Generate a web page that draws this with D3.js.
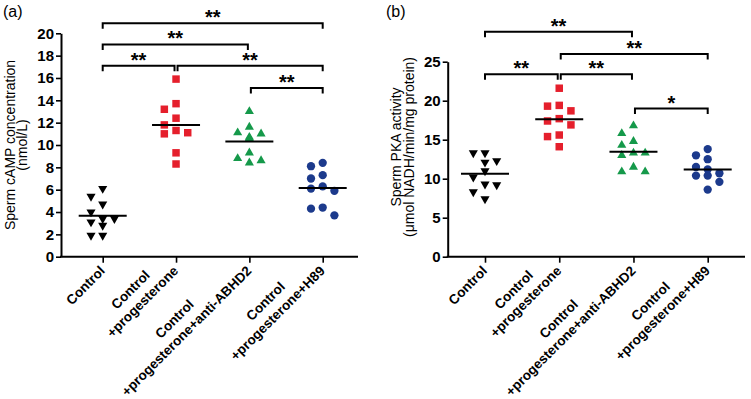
<!DOCTYPE html>
<html>
<head>
<meta charset="utf-8">
<script src="https://cdn.jsdelivr.net/npm/d3@7"></script>
<style>
body { margin: 0; background: #fff; }
svg { font-family: Arial, "Liberation Sans", sans-serif; }
</style>
</head>
<body>
<svg id="chart" width="751" height="399"></svg>
<script>
// group names, one entry per line of the tick label
var groupLabels = [
    ['Control'],
    ['Control', '+progesterone'],
    ['Control', '+progesterone+anti-ABHD2'],
    ['Control', '+progesterone+H89']
];

// (a) sperm cAMP, nmol/L
var campControl = [6.1, 5.4, 4.7, 4.0, 3.4, 3.4, 3.1, 2.8, 1.9, 1.9];
var campProg = [15.9, 13.7, 13.2, 12.4, 11.8, 11.3, 11.0, 11.1, 9.3, 8.3];
var campAbhd2 = [13.0, 11.6, 11.1, 11.0, 10.7, 10.6, 9.3, 8.8, 8.6, 8.4];
var campH89 = [8.4, 8.1, 7.3, 7.0, 6.3, 6.1, 5.9, 4.4, 4.3, 3.7];
var campTicks = [0, 2, 4, 6, 8, 10, 12, 14, 16, 18, 20];
// [from, to, label, bracket level in data units]
var campComparisons = [[0, 3, '**', 20.9], [0, 2, '**', 19.0], [0, 1, '**', 17.1], [1, 3, '**', 17.1], [2, 3, '**', 15.1]];

// (b) sperm PKA activity
var pkaControl = [13.3, 13.3, 12.3, 12.1, 11.0, 10.2, 9.3, 9.2, 8.3, 7.4];
var pkaProg = [21.6, 19.4, 19.3, 18.7, 17.7, 17.4, 16.9, 15.6, 15.4, 14.1];
var pkaAbhd2 = [16.8, 15.8, 14.8, 14.3, 13.3, 13.3, 13.0, 11.5, 10.9, 10.9];
var pkaH89 = [13.8, 13.0, 12.5, 11.5, 11.2, 10.7, 10.4, 10.4, 9.6, 8.6];
var pkaTicks = [0, 5, 10, 15, 20, 25];
var pkaComparisons = [[0, 2, '**', 28.85], [1, 3, '**', 26.0], [0, 1, '**', 23.4], [1, 2, '**', 23.4], [2, 3, '*', 19.0]];

var colors = ['#000000', '#e51f2c', '#15994a', '#1c3a8c'];
var symbols = [
    { type: d3.symbolTriangle, size: 36, rot: 180 },
    { type: d3.symbolSquare, size: 56, rot: 0 },
    { type: d3.symbolTriangle, size: 36, rot: 0 },
    { type: d3.symbolCircle, size: 54, rot: 0 }
];

var svg = d3.select('#chart');

// simple beeswarm: spread points sideways when they would overlap
function swarm(values, y) {
    var placed = [];
    var result = [];
    var offsets = [0, -11.7, 11.7, -5.85, 5.85, -17.5, 17.5];
    var order = d3.range(values.length).sort(function(a, b) { return values[b] - values[a]; });
    order.forEach(function(i) {
        var py = y(values[i]);
        var dx = offsets.find(function(o) {
            return placed.every(function(p) {
                return Math.abs(p.dx - o) >= 9 || Math.abs(p.y - py) >= 8.5;
            });
        });
        if (dx === undefined) dx = 0;
        placed.push({ dx: dx, y: py });
        result[i] = dx;
    });
    return result;
}

function drawPanel(cfg) {
    var g = svg.append('g');
    var x = d3.scalePoint().domain(d3.range(4)).range([cfg.x0, cfg.x1]);
    var y = d3.scaleLinear().domain([0, cfg.yMax]).range([cfg.yBottom, cfg.yTop]);

    // y axis
    var ya = g.append('g')
        .attr('transform', 'translate(' + cfg.axisLeft + ',0)')
        .call(d3.axisLeft(y).tickValues(cfg.ticks).tickSize(5).tickSizeOuter(0).tickPadding(2));
    ya.select('.domain').attr('stroke-width', 2);
    ya.selectAll('.tick line').attr('stroke-width', 1.6);
    ya.selectAll('.tick text')
        .attr('font-size', 15)
        .attr('font-weight', 'bold')
        .attr('font-family', 'Arial, "Liberation Sans", sans-serif')
        .attr('fill', '#000');

    // x axis
    var xa = g.append('g')
        .attr('transform', 'translate(0,' + cfg.yBottom + ')')
        .call(d3.axisBottom(x).tickSize(6).tickFormat(''));
    xa.select('.domain').remove();
    xa.selectAll('.tick line').attr('stroke-width', 1.6);
    g.append('line')
        .attr('x1', cfg.axisLeft - 1)
        .attr('x2', cfg.axisRight)
        .attr('y1', cfg.yBottom)
        .attr('y2', cfg.yBottom)
        .attr('stroke', '#000')
        .attr('stroke-width', 2);

    // rotated category labels
    groupLabels.forEach(function(lines, i) {
        var lg = g.append('g')
            .attr('transform', 'translate(' + (x(i) + 3) + ',' + (cfg.yBottom + 15) + ') rotate(-45)');
        var texts = lines.map(function(t, j) {
            return lg.append('text')
                .attr('y', -(lines.length - 1 - j) * 17)
                .attr('text-anchor', 'middle')
                .attr('font-size', 13.5)
                .attr('font-weight', 'bold')
                .text(t);
        });
        var maxW = d3.max(texts, function(t) { return t.node().getComputedTextLength(); });
        texts.forEach(function(t) { t.attr('x', -maxW / 2); });
    });

    // y axis title
    cfg.title.forEach(function(t, j) {
        g.append('text')
            .attr('transform', 'translate(' + cfg.titleX[j] + ',' + cfg.titleY + ') rotate(-90)')
            .attr('text-anchor', 'middle')
            .attr('font-size', 14)
            .text(t);
    });

    // panel letter
    g.append('text')
        .attr('x', cfg.letterX)
        .attr('y', 17)
        .attr('font-size', 16)
        .text(cfg.letter);

    // points and mean lines
    cfg.series.forEach(function(values, i) {
        var offs = swarm(values, y);
        var sym = symbols[i];
        g.append('g')
            .selectAll('path')
            .data(values)
            .join('path')
            .attr('d', d3.symbol().type(sym.type).size(sym.size))
            .attr('transform', function(d, k) {
                return 'translate(' + (x(i) + offs[k]) + ',' + y(d) + ') rotate(' + sym.rot + ')';
            })
            .attr('fill', colors[i]);

        var m = d3.mean(values);
        g.append('line')
            .attr('x1', x(i) - 24)
            .attr('x2', x(i) + 24)
            .attr('y1', y(m))
            .attr('y2', y(m))
            .attr('stroke', '#000')
            .attr('stroke-width', 2);
    });

    // significance brackets
    cfg.comparisons.forEach(function(c) {
        var x1 = x(c[0]) + (c[0] > 0 ? 1.5 : 0);
        var x2 = x(c[1]) - (c[1] < 3 ? 1.5 : 0);
        var by = y(c[3]);
        g.append('path')
            .attr('d', 'M' + x1 + ',' + (by + 5.5) + 'V' + by + 'H' + x2 + 'V' + (by + 5.5))
            .attr('fill', 'none')
            .attr('stroke', '#000')
            .attr('stroke-width', 2);
        g.append('text')
            .attr('x', (x1 + x2) / 2)
            .attr('y', by + 1)
            .attr('text-anchor', 'middle')
            .attr('font-size', 20)
            .attr('font-weight', 'bold')
            .text(c[2]);
    });
}

drawPanel({
    letter: '(a)', letterX: 3,
    axisLeft: 61, axisRight: 358, x0: 102.7, x1: 322.7,
    yBottom: 256.7, yTop: 33.3, yMax: 20, ticks: campTicks,
    title: ['Sperm cAMP concentration', '(nmol/L)'], titleX: [14.5, 27], titleY: 145,
    series: [campControl, campProg, campAbhd2, campH89],
    comparisons: campComparisons
});

drawPanel({
    letter: '(b)', letterX: 386,
    axisLeft: 447.7, axisRight: 745, x0: 485, x1: 707.7,
    yBottom: 256.7, yTop: 61.7, yMax: 25, ticks: pkaTicks,
    title: ['Sperm PKA activity', '(\u03bcmol NADH/min/mg protein)'], titleX: [401, 414], titleY: 147,
    series: [pkaControl, pkaProg, pkaAbhd2, pkaH89],
    comparisons: pkaComparisons
});
</script>
</body>
</html>
